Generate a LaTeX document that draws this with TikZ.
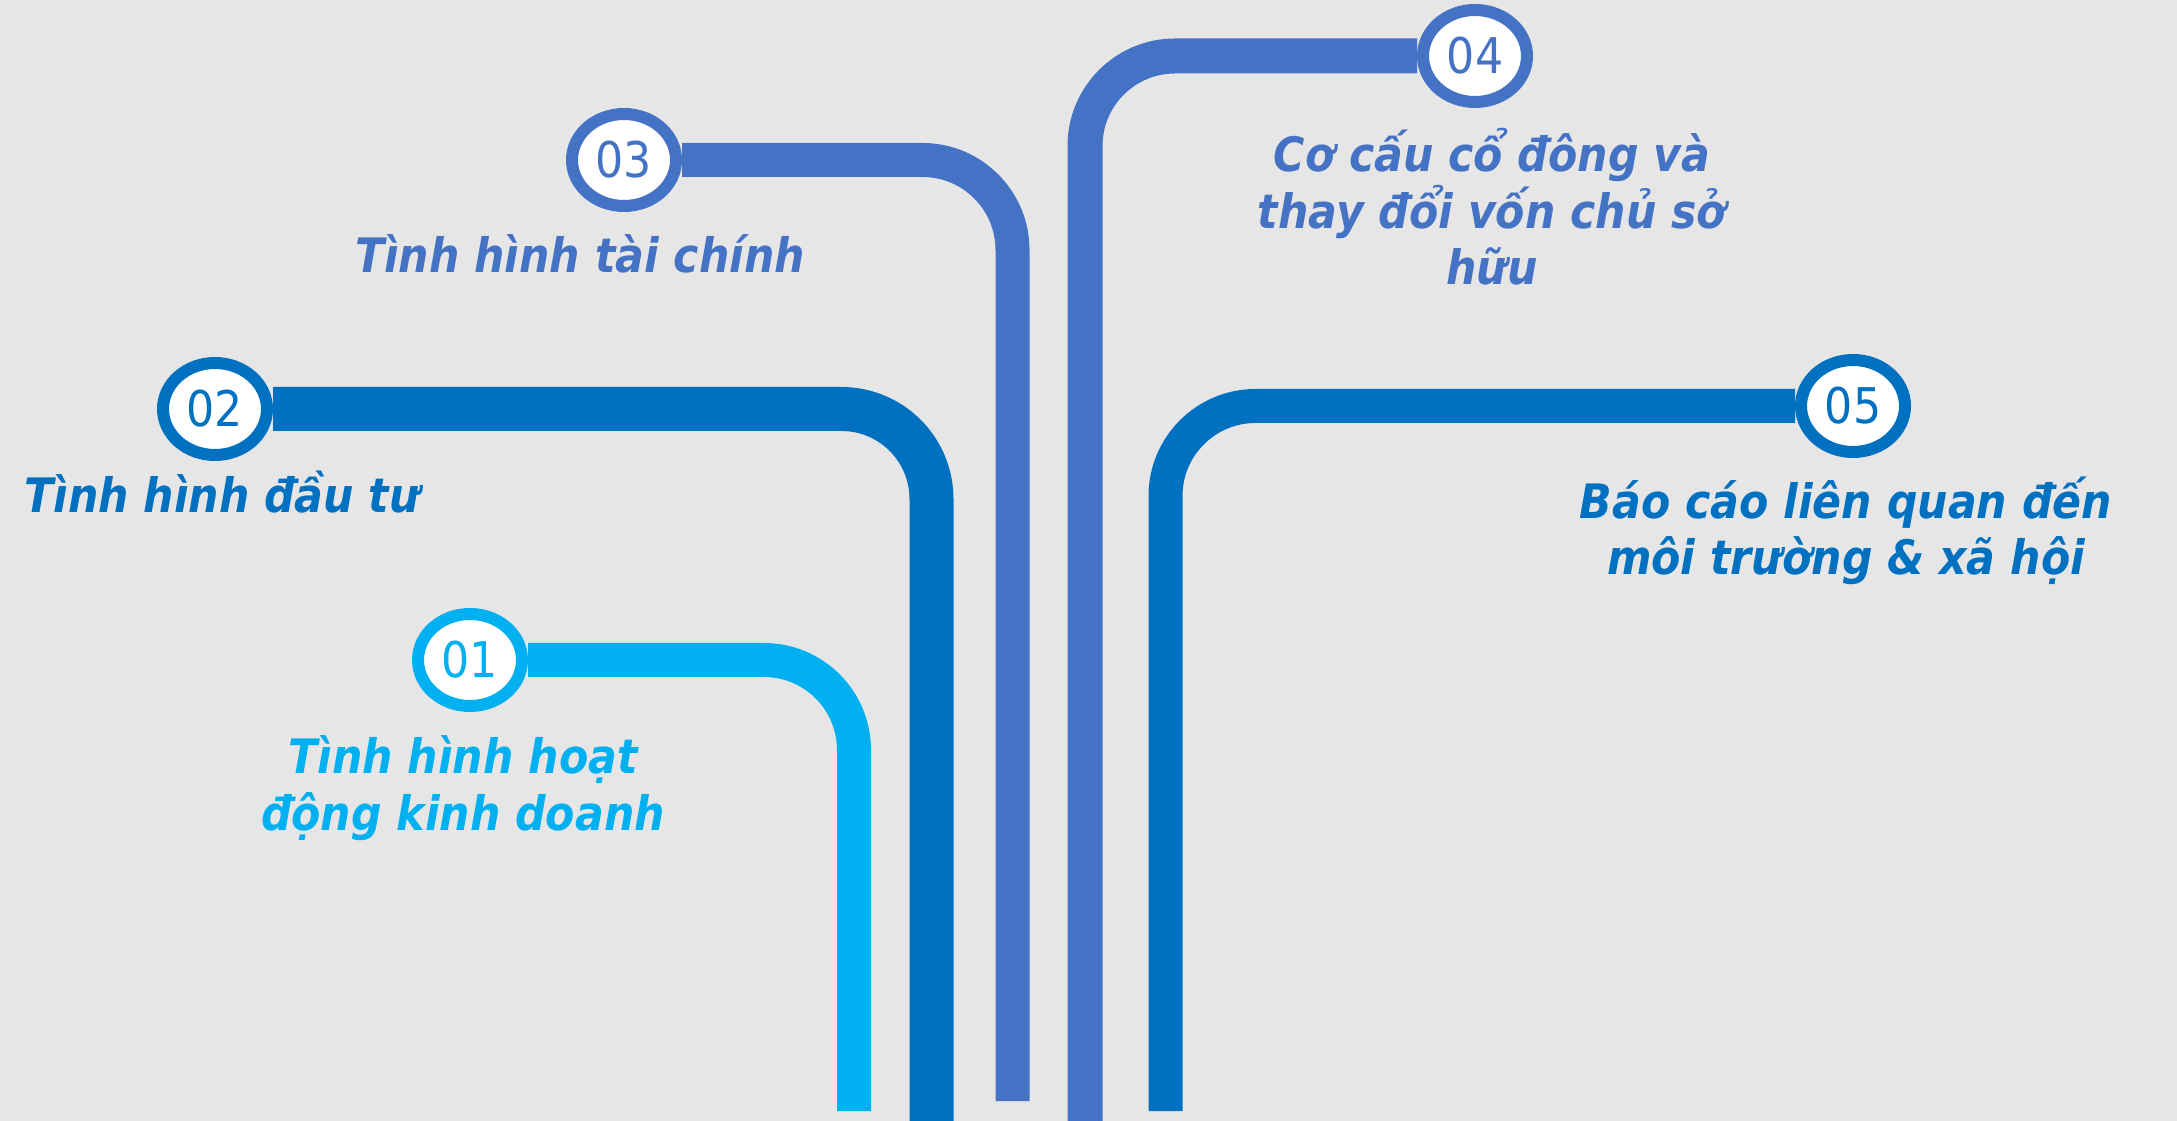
\documentclass[tikz,border=0pt]{standalone}
\usepackage{fontspec}
\setmainfont{DejaVu Sans Condensed}
\usepackage{tikz}
\usetikzlibrary{positioning, shapes.geometric}
\definecolor{bluea}{HTML}{00B0F0}
\definecolor{blueb}{HTML}{0070C0}
\definecolor{bluec}{HTML}{4472C4}
\definecolor{backgr}{HTML}{E7E6E6}
\pgfdeclarelayer{back}
\pgfsetlayers{back,main}
\tikzset{
    num/.style={ellipse, draw=#1, fill=white, line width=0.12cm, minimum width=1.04cm,
        minimum height=0.92cm, inner sep=0pt, text=#1, font=\fontsize{14}{16}\selectfont},
    pipe/.style={draw=#1, line width=0.34cm, rounded corners=0.9cm},
    topic/.style={text=#1, align=center, inner sep=0pt, anchor=base,
        font=\fontsize{13.5}{16.2}\selectfont\bfseries\itshape}
}

\begin{document}
\begin{tikzpicture}
            \useasboundingbox (0,0) rectangle (21.77,-11.21);
            \begin{pgfonlayer}{back}
                \fill [backgr] (0,0) rectangle (21.77,-11.21);
            \end{pgfonlayer}

            \node [num=bluea] (C1) at (4.70,-6.60) {01};
            \node [num=blueb] (C2) at (2.15,-4.09) {02};
            \node [num=bluec] (C3) at (6.24,-1.60) {03};
            \node [num=bluec] (C4) at (14.75,-0.56) {04};
            \node [num=blueb] (C5) at (18.53,-4.06) {05};

            \coordinate (E1) at (8.54,-11.11);
            \coordinate (E2) at (9.315,-11.21);
            \coordinate (E3) at (10.125,-11.01);
            \coordinate (E4) at (10.85,-11.21);
            \coordinate (E5) at (11.655,-11.11);

            \begin{pgfonlayer}{back}
                \draw [pipe=bluea] (C1) -| (E1);
                \draw [pipe=blueb, line width=0.44cm] (C2) -| (E2);
                \draw [pipe=bluec] (C3) -| (E3);
                \draw [pipe=bluec, line width=0.35cm] (C4) -| (E4);
                \draw [pipe=blueb] (C5) -| (E5);
            \end{pgfonlayer}

            % base anchor sits on the last line
            \node [topic=bluea] (T1) at (4.63,-8.30) {Tình hình hoạt\\động kinh doanh};
            \node [topic=blueb] (T2) at (2.22,-5.13) {Tình hình đầu tư};
            \node [topic=bluec] (T3) at (5.80,-2.73) {Tình hình tài chính};
            \node [topic=bluec] (T4) at (14.92,-2.85) {Cơ cấu cổ đông và\\thay đổi vốn chủ sở\\hữu};
            \node [topic=blueb] (T5) at (18.46,-5.75) {Báo cáo liên quan đến\\môi trường \& xã hội};
        \end{tikzpicture}
\end{document}
